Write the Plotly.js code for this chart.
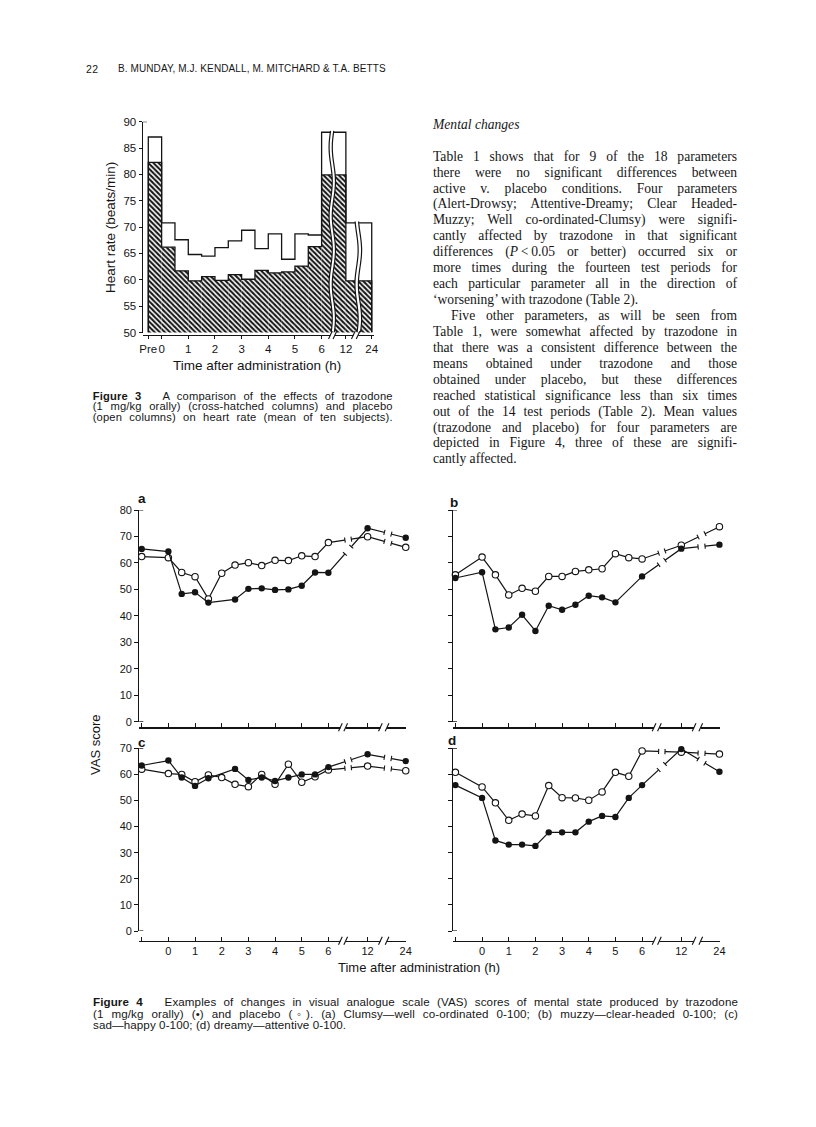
<!DOCTYPE html>
<html><head><meta charset="utf-8">
<script src="https://cdn.plot.ly/plotly-3.0.1.min.js"></script>
<style>
html,body{margin:0;padding:0;background:#fff;}
#page{position:relative;width:816px;height:1127px;overflow:hidden;background:#fff;}
#plot{position:absolute;left:0;top:0;width:816px;height:1127px;}
.t{position:absolute;color:#161616;overflow:visible;}
.serif{font-family:"Liberation Serif","Times New Roman",serif;}
.sans{font-family:"Liberation Sans",Arial,sans-serif;}
</style></head>
<body>
<div id="page"><div id="plot"></div></div>
<script>
// ---------------- Figure 3 data (heart rate, beats/min) ----------------
const fig3PeriodStart = ['Pre','0','0.5','1','1.5','2','2.5','3','3.5','4','4.5','5','5.5','6','12'];
const fig3PeriodHours = [-1,0,0.5,1,1.5,2,2.5,3,3.5,4,4.5,5,5.5,6,12];
const fig3EndHour = 24;
const fig3Trazodone = [82.3,66.2,61.7,59.8,60.6,59.9,61.0,60.1,61.8,61.3,61.5,62.6,66.3,79.9,59.8];
const fig3Placebo   = [87.1,70.8,67.6,64.8,64.5,66.1,67.4,69.4,65.9,68.7,63.9,68.7,68.5,88.0,70.8];
const fig3TickHours  = [-1,0,1,2,3,4,5,6,12,24];
const fig3TickLabels = ['Pre','0','1','2','3','4','5','6','12','24'];
const fig3YTicks = [50,55,60,65,70,75,80,85,90];

// ---------------- Figure 4 data (VAS score) ----------------
const fig4Labels = ['Pre','0','0.5','1','1.5','2','2.5','3','3.5','4','4.5','5','5.5','6','12','24'];
const fig4Hours  = [-1,0,0.5,1,1.5,2,2.5,3,3.5,4,4.5,5,5.5,6,12,24];
const aTrazodone = [65.3,64.3,48.3,48.9,45.0,null,46.2,50.2,50.4,49.8,50.0,51.4,56.4,56.3,73.1,69.5];
const aPlacebo   = [62.4,62.0,56.4,54.8,46.4,56.1,59.2,60.1,59.0,61.0,60.9,62.7,62.4,67.7,69.9,65.9];
const bTrazodone = [54.3,56.5,34.9,35.6,40.4,34.3,43.8,42.3,44.2,47.6,47.0,45.1,null,54.9,65.4,66.9];
const bPlacebo   = [55.5,62.2,55.5,47.9,50.4,49.3,54.9,54.9,56.8,57.4,57.8,63.5,62.0,61.5,66.7,73.7];
const cTrazodone = [63.4,65.3,58.8,55.6,58.5,null,62.1,57.9,58.8,57.5,58.8,60.0,60.0,62.8,67.7,65.1];
const cPlacebo   = [62.0,60.3,60.0,57.2,59.8,58.8,56.2,55.3,60.0,56.2,63.9,57.0,59.1,61.7,63.2,61.4];
const dTrazodone = [55.9,51.0,34.7,33.1,33.1,32.6,37.8,37.8,37.8,41.9,44.1,43.7,51.0,55.9,69.7,61.0];
const dPlacebo   = [60.8,55.2,49.1,42.4,44.8,44.1,55.7,51.1,51.0,50.1,53.3,60.8,59.3,69.0,68.5,67.8];
const fig4TickHours  = [-1,0,1,2,3,4,5,6,12,24];
const fig4TickLabels = ['','0','1','2','3','4','5','6','12','24'];

// ---------------- broken time axes ----------------
function pos3(h){ if(h<0) return -0.5; if(h<=6) return h; if(h===12) return 6.91; return 7.88; }
function pos4(h){ if(h<0) return -1; if(h<=6) return h; if(h===12) return 7.47; return 8.9; }

const W=816,H=1127;
const fx=p=>p/W, fy=p=>1-p/H;
const INK='#141414';
const FONT='"Liberation Sans", Arial, sans-serif';
const tickFont={family:FONT,size:11,color:INK};

const traces=[]; const shapes=[]; const annotations=[];
const layout={width:W,height:H,margin:{l:0,r:0,t:0,b:0},paper_bgcolor:'white',plot_bgcolor:'rgba(0,0,0,0)',showlegend:false,font:{family:FONT,color:INK}};

// ----- Figure 3 axes -----
layout.xaxis={domain:[fx(142.7),fx(373.6)],range:[-0.71,7.95],anchor:'free',position:fy(335),
  showline:true,linecolor:INK,linewidth:1.2,ticks:'outside',ticklen:3,tickwidth:1,tickcolor:INK,tickangle:0,
  tickmode:'array',tickvals:fig3TickHours.map(pos3),ticktext:fig3TickLabels,tickfont:{family:FONT,size:11.5,color:INK},
  showgrid:false,zeroline:false,fixedrange:true};
layout.yaxis={domain:[fy(332.5),fy(121.7)],range:[50,90],anchor:'x',showline:true,linecolor:INK,linewidth:1.2,
  ticks:'outside',ticklen:3,tickwidth:1,tickcolor:INK,tickmode:'array',tickvals:fig3YTicks,
  tickfont:{family:FONT,size:11.5,color:INK},showgrid:false,zeroline:false,fixedrange:true};

const edges3 = fig3PeriodHours.map(pos3).concat([pos3(fig3EndHour)]);
traces.push({type:'bar',xaxis:'x',yaxis:'y',x:edges3.slice(0,-1),y:fig3Trazodone,
  width:edges3.slice(0,-1).map((e,i)=>edges3[i+1]-e),offset:0,
  marker:{color:'white',line:{width:0},pattern:{shape:'\\',fgcolor:'#161616',bgcolor:'white',size:3.6,solidity:0.55,fillmode:'replace'}},
  hoverinfo:'skip',name:'Trazodone'});
function stepTrace(vals,name){
  const xs=[edges3[0]], ys=[50];
  vals.forEach((v,i)=>{xs.push(edges3[i]); ys.push(v);});
  xs.push(edges3[edges3.length-1]); ys.push(vals[vals.length-1]);
  xs.push(edges3[edges3.length-1]); ys.push(50);
  return {type:'scatter',mode:'lines',xaxis:'x',yaxis:'y',x:xs,y:ys,line:{shape:'hv',color:INK,width:1.3},hoverinfo:'skip',name:name,cliponaxis:false};
}
traces.push(stepTrace(fig3Trazodone,'Trazodone outline'));
traces.push(stepTrace(fig3Placebo,'Placebo outline'));

function wavy(xc,y0,y1,amp,period,phase){const p=[];const n=48;for(let i=0;i<=n;i++){const y=y0+(y1-y0)*i/n;p.push([xc+amp*Math.sin((y-y0)/period*2*Math.PI+phase),y]);}return p;}
function pathOf(pts){return 'M'+pts.map(p=>p[0].toFixed(4)+','+p[1].toFixed(3)).join('L');}
function addBarBreak(xl,xr,top){
  const L=wavy(xl,50,top,0.06,13,0.3), R=wavy(xr,50,top,0.06,13,0.3);
  shapes.push({type:'path',xref:'x',yref:'y',path:pathOf(L)+'L'+R.slice().reverse().map(p=>p[0].toFixed(4)+','+p[1].toFixed(3)).join('L')+'Z',fillcolor:'white',line:{width:0},layer:'above'});
  shapes.push({type:'path',xref:'x',yref:'y',path:pathOf(L),line:{color:INK,width:1.2},layer:'above'});
  shapes.push({type:'path',xref:'x',yref:'y',path:pathOf(R),line:{color:INK,width:1.2},layer:'above'});
}
addBarBreak(6.34,6.46,fig3Placebo[13]+0.25);
addBarBreak(7.31,7.44,fig3Placebo[14]+0.25);
shapes.push({type:'line',xref:'paper',yref:'y',x0:fx(142.7),x1:fx(147),y0:90,y1:90,line:{color:INK,width:1.2}});
function axisBreak(xref,b0,b1,py){
  shapes.push({type:'rect',xref:xref,yref:'paper',x0:b0,x1:b1,y0:fy(py+2.5),y1:fy(py-2.5),fillcolor:'white',line:{width:0},layer:'above'});
  [b0,b1].forEach(b=>shapes.push({type:'line',xref:xref,yref:'paper',x0:b-0.07,x1:b+0.07,y0:fy(py+4),y1:fy(py-4),line:{color:INK,width:1.1},layer:'above'}));
}
axisBreak('x',6.33,6.5,335);
axisBreak('x',7.19,7.37,335);

annotations.push({xref:'paper',yref:'paper',x:fx(110),y:fy(228),text:'Heart rate (beats/min)',textangle:-90,showarrow:false,font:{family:FONT,size:13.5,color:INK},xanchor:'center',yanchor:'middle'});
annotations.push({xref:'paper',yref:'paper',x:fx(257),y:fy(365),text:'Time after administration (h)',showarrow:false,font:{family:FONT,size:13.5,color:INK},xanchor:'center',yanchor:'middle'});

// ----- Figure 4 panels -----
const panels=[
  {id:2,letter:'a',tr:aTrazodone,pl:aPlacebo,xd:[139.3,406],yd:[721.7,510],yr:[0,80],ax:727.3,ylab:true,xlab:false,lp:[141.7,498]},
  {id:3,letter:'b',tr:bTrazodone,pl:bPlacebo,xd:[453,719.7],yd:[721.7,510],yr:[0,80],ax:727.3,ylab:false,xlab:false,lp:[453.5,502]},
  {id:4,letter:'c',tr:cTrazodone,pl:cPlacebo,xd:[139.3,406],yd:[931,748.3],yr:[0,70],ax:940.7,ylab:true,xlab:true,lp:[141.7,742]},
  {id:5,letter:'d',tr:dTrazodone,pl:dPlacebo,xd:[453,719.7],yd:[931,748.3],yr:[0,70],ax:940.7,ylab:false,xlab:true,lp:[452,740]}
];
const lineGaps=[[6.62,6.86],[8.1,8.36]];
panels.forEach(P=>{
  const xa='x'+P.id, ya='y'+P.id;
  const yt=[]; for(let v=P.yr[0]; v<=P.yr[1]; v+=10) yt.push(v);
  layout['xaxis'+P.id]={domain:[fx(P.xd[0]),fx(P.xd[1])],range:[-1.09,8.91],anchor:'free',position:fy(P.ax),
    showline:true,linecolor:INK,linewidth:1.2,ticks:'inside',ticklen:4,tickwidth:1,tickcolor:INK,tickangle:0,
    tickmode:'array',tickvals:fig4TickHours.map(pos4),ticktext:P.xlab?fig4TickLabels:fig4TickHours.map(()=>''),
    tickfont:tickFont,showgrid:false,zeroline:false,fixedrange:true};
  layout['yaxis'+P.id]={domain:[fy(P.yd[0]),fy(P.yd[1])],range:P.yr,anchor:xa,showline:true,linecolor:INK,linewidth:1.2,
    ticks:'outside',ticklen:4,tickwidth:1,tickcolor:INK,tickmode:'array',tickvals:yt,
    ticktext:yt.map(v=>P.ylab?String(v):''),tickfont:tickFont,showgrid:false,zeroline:false,fixedrange:true};
  const xs=fig4Hours.map(pos4);
  traces.push({type:'scatter',mode:'lines+markers',xaxis:xa,yaxis:ya,x:xs,y:P.pl,text:fig4Labels,connectgaps:true,cliponaxis:false,
    line:{color:INK,width:1.2},marker:{symbol:'circle',size:6.4,color:'white',line:{color:INK,width:1.1}},name:'Placebo',hoverinfo:'skip'});
  traces.push({type:'scatter',mode:'lines+markers',xaxis:xa,yaxis:ya,x:xs,y:P.tr,text:fig4Labels,connectgaps:true,cliponaxis:false,
    line:{color:INK,width:1.2},marker:{symbol:'circle',size:6.4,color:INK},name:'Trazodone',hoverinfo:'skip'});
  lineGaps.forEach(g=>shapes.push({type:'rect',xref:xa,yref:ya,x0:g[0],x1:g[1],y0:P.yr[0]+1,y1:P.yr[1]-0.2,fillcolor:'white',line:{width:0},layer:'above'}));
  const pxX=(P.xd[1]-P.xd[0])/10, pxY=(P.yd[0]-P.yd[1])/(P.yr[1]-P.yr[0]);
  [P.pl,P.tr].forEach(vals=>{
    [[13,14,lineGaps[0]],[14,15,lineGaps[1]]].forEach(([i,j,g])=>{
      const x1=xs[i],x2=xs[j],y1=vals[i],y2=vals[j];
      if(y1==null||y2==null) return;
      const dx=(x2-x1)*pxX, dy=(y2-y1)*pxY, len=Math.hypot(dx,dy);
      const nx=-dy/len*2.6, ny=dx/len*2.6;
      g.forEach(gx=>{
        const yy=y1+(y2-y1)*(gx-x1)/(x2-x1);
        shapes.push({type:'line',xref:xa,yref:ya,x0:gx-nx/pxX,x1:gx+nx/pxX,y0:yy-ny/pxY,y1:yy+ny/pxY,line:{color:INK,width:1.1},layer:'above'});
      });
    });
  });
  axisBreak(xa,6.45,6.65,P.ax);
  axisBreak(xa,7.95,8.2,P.ax);
  [P.yr[0],P.yr[1]].forEach(v=>shapes.push({type:'line',xref:'paper',yref:ya,x0:fx(P.xd[0]),x1:fx(P.xd[0]+4),y0:v,y1:v,line:{color:INK,width:1.2}}));
  annotations.push({xref:'paper',yref:'paper',x:fx(P.lp[0]),y:fy(P.lp[1]),text:'<b>'+P.letter+'</b>',showarrow:false,font:{family:FONT,size:13.5,color:INK},xanchor:'center',yanchor:'middle'});
});
annotations.push({xref:'paper',yref:'paper',x:fx(96),y:fy(745),text:'VAS score',textangle:-90,showarrow:false,font:{family:FONT,size:13,color:INK},xanchor:'center',yanchor:'middle'});
annotations.push({xref:'paper',yref:'paper',x:fx(419),y:fy(967),text:'Time after administration (h)',showarrow:false,font:{family:FONT,size:13,color:INK},xanchor:'center',yanchor:'middle'});

layout.shapes=shapes; layout.annotations=annotations;
Plotly.newPlot('plot',traces,layout,{staticPlot:true,displayModeBar:false});

// ---------------- page text ----------------
const page=document.getElementById('page');
function addLine(html,left,right,cy,cls,justify,fs,lh,ls){
  const d=document.createElement('div');
  d.className='t '+cls;
  d.style.left=left+'px'; d.style.width=(right-left)+'px';
  d.style.top=(cy-lh/2)+'px'; d.style.lineHeight=lh+'px'; d.style.fontSize=fs+'px';
  if(ls) d.style.letterSpacing=ls+'px';
  if(justify){d.style.textAlign='justify'; d.style.textAlignLast='justify';}
  d.innerHTML=html; page.appendChild(d);
  let f=fs; while(d.scrollHeight>lh+2 && f>6){f-=0.1; d.style.fontSize=f+'px';}
  return d;
}
function addPlain(text,left,cy,fs,ls){
  const d=document.createElement('div');
  d.className='t sans'; d.style.left=left+'px'; d.style.top=(cy-7)+'px'; d.style.lineHeight='14px';
  d.style.fontSize=fs+'px'; d.style.whiteSpace='nowrap'; d.style.letterSpacing=ls+'px'; d.textContent=text; page.appendChild(d);
  return d;
}
addPlain('22',86,69,10.5,0.3);
addPlain('B. MUNDAY, M.J. KENDALL, M. MITCHARD & T.A. BETTS',118,69,10,0.1);

// right column
addLine('<i>Mental changes</i>',433,737,125,'serif',false,13.6,16);
const bodyLines=[
 ['Table 1 shows that for 9 of the 18 parameters',1,0],
 ['there were no significant differences between',1,0],
 ['active v. placebo conditions. Four parameters',1,0],
 ['(Alert-Drowsy; Attentive-Dreamy; Clear Headed-',1,0],
 ['Muzzy; Well co-ordinated-Clumsy) were signifi-',1,0],
 ['cantly affected by trazodone in that significant',1,0],
 ['differences (<i>P</i>&thinsp;&lt;&thinsp;0.05 or better) occurred six or',1,0],
 ['more times during the fourteen test periods for',1,0],
 ['each particular parameter all in the direction of',1,0],
 ['\u2018worsening\u2019 with trazodone (Table 2).',0,0],
 ['Five other parameters, as will be seen from',1,1],
 ['Table 1, were somewhat affected by trazodone in',1,0],
 ['that there was a consistent difference between the',1,0],
 ['means obtained under trazodone and those',1,0],
 ['obtained under placebo, but these differences',1,0],
 ['reached statistical significance less than six times',1,0],
 ['out of the 14 test periods (Table 2). Mean values',1,0],
 ['(trazodone and placebo) for four parameters are',1,0],
 ['depicted in Figure 4, three of these are signifi-',1,0],
 ['cantly affected.',0,0]
];
bodyLines.forEach((l,i)=>addLine(l[0],l[2]?451:433,737,156.7+i*15.93,'serif',!!l[1],13.6,16));

// figure 3 caption
const cap3=[
 '<b>Figure 3</b>&nbsp;&nbsp; A comparison of the effects of trazodone',
 '(1 mg/kg orally) (cross-hatched columns) and placebo',
 '(open columns) on heart rate (mean of ten subjects).'
];
cap3.forEach((t,i)=>addLine(t,92.7,392.7,396+i*10.7,'sans',true,11.2,11,0.15));

// figure 4 caption
const cap4=[
 ['<b>Figure 4</b>&nbsp;&nbsp; Examples of changes in visual analogue scale (VAS) scores of mental state produced by trazodone',1],
 ['(1 mg/kg orally) (\u2022) and placebo (\u25E6). (a) Clumsy\u2014well co-ordinated 0-100; (b) muzzy\u2014clear-headed 0-100; (c)',1],
 ['sad\u2014happy 0-100; (d) dreamy\u2014attentive 0-100.',0]
];
cap4.forEach((t,i)=>addLine(t[0],93,738,1002+i*11.6,'sans',!!t[1],11.6,12,0.1));
</script>
</body></html>
